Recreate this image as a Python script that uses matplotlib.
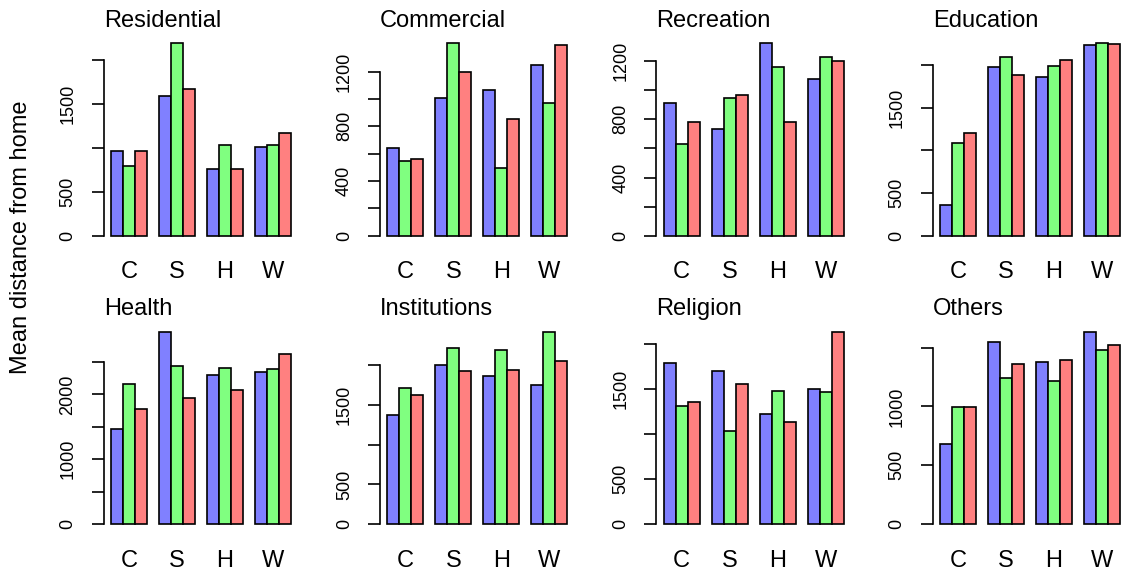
import numpy as np
import matplotlib.pyplot as plt
from matplotlib.transforms import offset_copy

plt.rcParams['font.family'] = ['Liberation Sans', 'DejaVu Sans']

# --- data: rows = C, S, H, W; columns = blue, green, red ---
categories = ['C', 'S', 'H', 'W']
colors = ['#8080FF', '#80FF80', '#FF8080']

residential = [[958, 795, 966], [1591, 2186, 1667], [761, 1027, 758], [1004, 1030, 1170]]
commercial = [[641, 546, 559], [1005, 1407, 1195], [1066, 493, 854], [1246, 973, 1393]]
recreation = [[911, 633, 780], [734, 945, 968], [1323, 1161, 784], [1076, 1229, 1202]]
education = [[363, 1090, 1203], [1980, 2098, 1879], [1855, 1992, 2055], [2234, 2254, 2242]]
health = [[1469, 2165, 1773], [2969, 2443, 1948], [2304, 2402, 2077], [2351, 2392, 2619]]
institutions = [[1378, 1718, 1622], [2008, 2218, 1924], [1866, 2193, 1945], [1748, 2424, 2055]]
religion = [[1796, 1316, 1357], [1703, 1037, 1554], [1223, 1483, 1138], [1506, 1468, 2141]]
others = [[685, 997, 997], [1551, 1239, 1361], [1375, 1216, 1398], [1636, 1483, 1526]]

titles = ['Residential', 'Commercial', 'Recreation', 'Education',
          'Health', 'Institutions', 'Religion', 'Others']
values = [residential, commercial, recreation, education,
          health, institutions, religion, others]

# y ticks and which labels R kept (overlapping ones dropped)
yticks = [
    [0, 500, 1000, 1500, 2000],
    [0, 200, 400, 600, 800, 1000, 1200],
    [0, 200, 400, 600, 800, 1000, 1200],
    [0, 500, 1000, 1500, 2000],
    [0, 500, 1000, 1500, 2000, 2500],
    [0, 500, 1000, 1500, 2000],
    [0, 500, 1000, 1500, 2000],
    [0, 500, 1000, 1500],
]
ylabels = [
    ['0', '500', '', '1500', ''],
    ['0', '', '400', '', '800', '', '1200'],
    ['0', '', '400', '', '800', '', '1200'],
    ['0', '500', '', '1500', ''],
    ['0', '', '1000', '', '2000', ''],
    ['0', '500', '', '1500', ''],
    ['0', '500', '', '1500', ''],
    ['0', '500', '1000', ''],
]

W, H = 1122, 573
fig = plt.figure(figsize=(W / 100, H / 100), dpi=100)

for k in range(8):
    row, col = divmod(k, 4)
    left = 103.8 + 276.3 * col
    top = 35.6 + 288.4 * row
    ax = fig.add_axes([left / W, 1 - (top + 207.8) / H, 194.4 / W, 207.8 / H])
    ax.patch.set_visible(False)

    vals = np.array(values[k])
    group_left = 1 + np.arange(len(categories)) * 4
    for j in range(3):
        ax.bar(group_left + j + 0.5, vals[:, j], width=1, color=colors[j],
               edgecolor='black', linewidth=1.2)

    vmax = vals.max()
    ax.set_xlim(0.4, 16.6)
    ax.set_ylim(-0.04 * vmax, 1.04 * vmax)

    ax.set_xticks(group_left + 1.5, categories)
    ax.tick_params(axis='x', length=0, pad=13, labelsize=17)

    ax.set_yticks(yticks[k], ylabels[k])
    ax.tick_params(axis='y', length=8.6, width=1.2, pad=11, labelsize=13)
    for lbl in ax.get_yticklabels():
        lbl.set_rotation(90)
        lbl.set_va('center')
        lbl.set_ha('right')

    for s in ['top', 'right', 'bottom']:
        ax.spines[s].set_visible(False)
    ax.spines['left'].set_linewidth(1.2)
    ax.spines['left'].set_bounds(0, yticks[k][-1])

    ax.text(0, 1, titles[k], fontsize=17, ha='left', va='baseline',
            transform=offset_copy(ax.transAxes, fig=fig, x=0, y=9, units='dots'))

fig.text(21 / W, 1 - 237 / H, 'Mean distance from home', rotation=90,
         ha='center', va='center', fontsize=17)

fig.savefig('out.png', dpi=100, facecolor='white')
